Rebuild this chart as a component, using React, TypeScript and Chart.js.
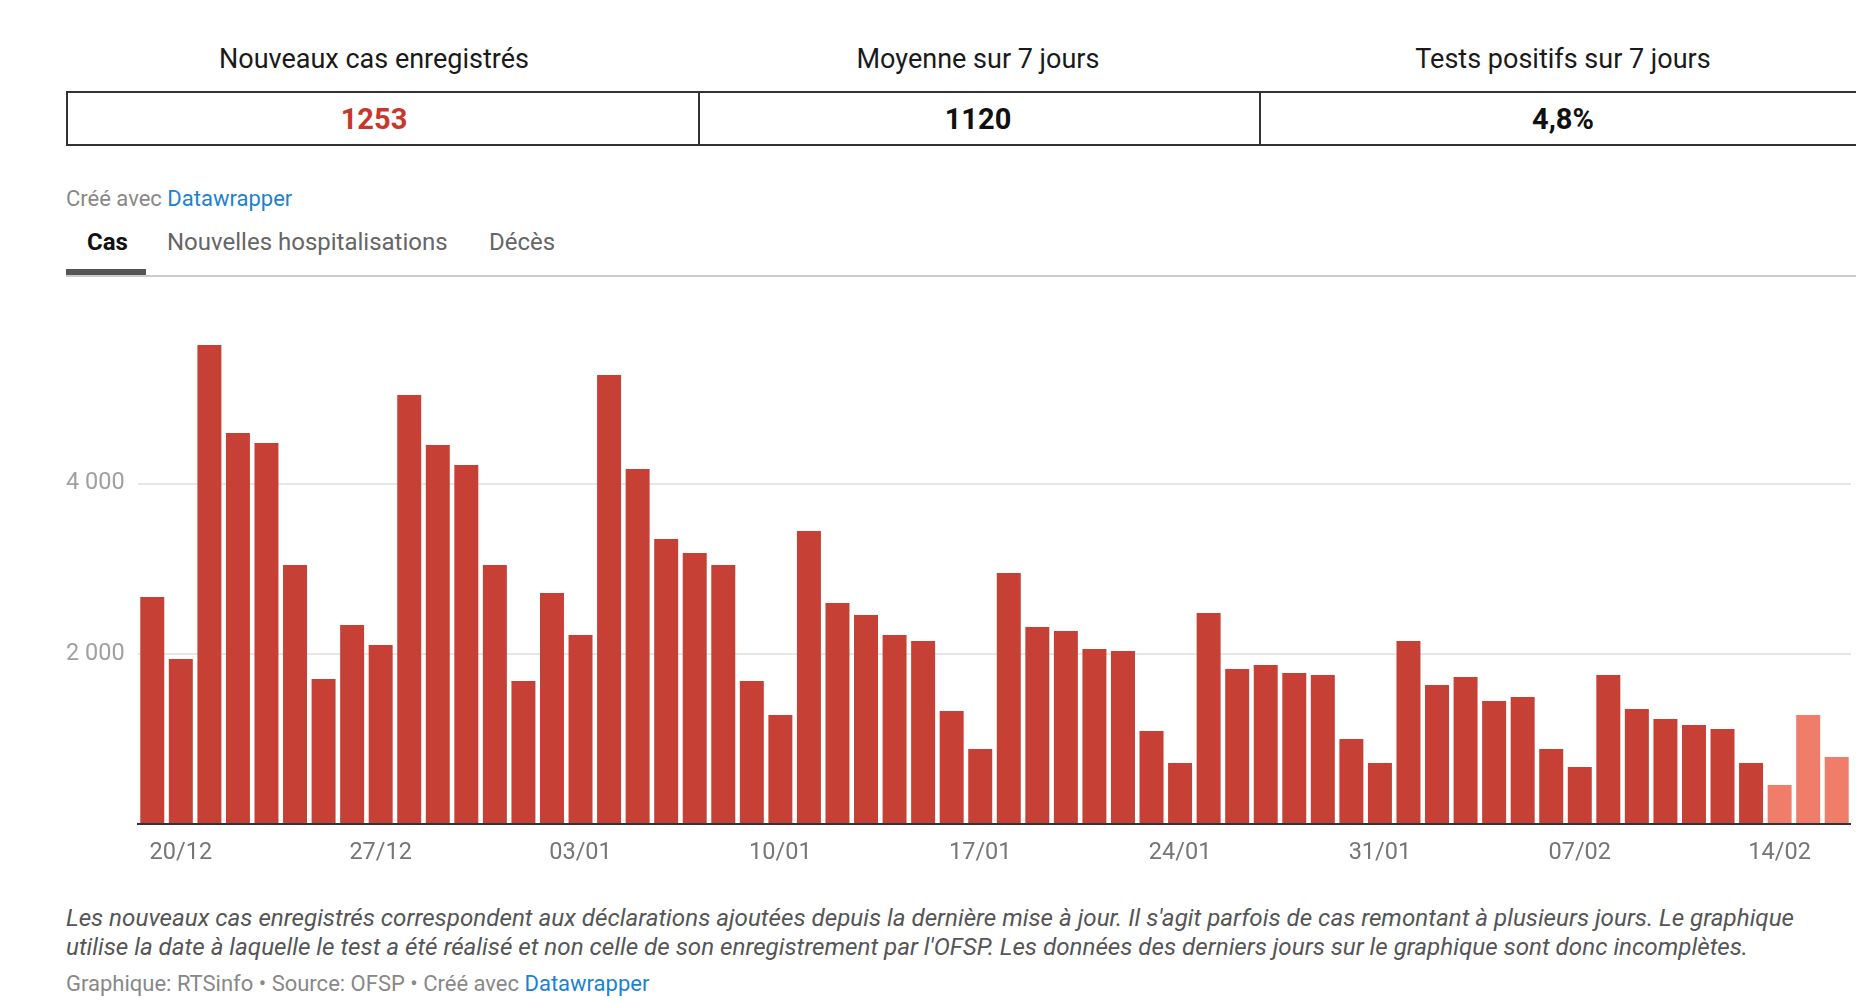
import React, { useEffect, useRef } from "react";
import { Chart, registerables } from "chart.js";

Chart.register(...registerables);

const FONT = "Roboto, 'Noto Sans', sans-serif";
const DARK_RED = "#c64035";
const LIGHT_RED = "#ef7d69";

const statTitles = ["Nouveaux cas enregistrés", "Moyenne sur 7 jours", "Tests positifs sur 7 jours"];
const statValues = ["1253", "1120", "4,8%"];
const statColors = ["#c9372c", "#111", "#111"];

const tabs = ["Cas", "Nouvelles hospitalisations", "Décès"];

const dates = [
  "19/12", "20/12", "21/12", "22/12", "23/12", "24/12", "25/12", "26/12", "27/12", "28/12",
  "29/12", "30/12", "31/12", "01/01", "02/01", "03/01", "04/01", "05/01", "06/01", "07/01",
  "08/01", "09/01", "10/01", "11/01", "12/01", "13/01", "14/01", "15/01", "16/01", "17/01",
  "18/01", "19/01", "20/01", "21/01", "22/01", "23/01", "24/01", "25/01", "26/01", "27/01",
  "28/01", "29/01", "30/01", "31/01", "01/02", "02/02", "03/02", "04/02", "05/02", "06/02",
  "07/02", "08/02", "09/02", "10/02", "11/02", "12/02", "13/02", "14/02", "15/02", "16/02",
];

const cases = [
  2668, 1939, 5630, 4596, 4478, 3044, 1704, 2339, 2104, 5042,
  4455, 4220, 3044, 1681, 2715, 2221, 5277, 4173, 3350, 3185,
  3044, 1681, 1281, 3444, 2598, 2457, 2221, 2151, 1328, 882,
  2950, 2316, 2268, 2057, 2033, 1093, 717, 2480, 1822, 1869,
  1775, 1751, 999, 717, 2151, 1634, 1728, 1446, 1493, 882,
  670, 1751, 1352, 1234, 1164, 1117, 717, 458, 1281, 788,
];

// last days are incomplete (lighter bars)
const incompleteDays = 3;

const xTickLabels = ["20/12", "27/12", "03/01", "10/01", "17/01", "24/01", "31/01", "07/02", "14/02"];
const yTickValues = [2000, 4000];
const yTickLabels = ["2 000", "4 000"];

const CasesChart: React.FC = () => {
  const canvasRef = useRef<HTMLCanvasElement | null>(null);
  const chartRef = useRef<Chart<"bar", number[], string> | null>(null);

  useEffect(() => {
    if (chartRef.current) {
      chartRef.current.destroy();
    }
    if (canvasRef.current) {
      const colors = cases.map((_, i) => (i >= cases.length - incompleteDays ? LIGHT_RED : DARK_RED));
      chartRef.current = new Chart(canvasRef.current, {
        type: "bar",
        data: {
          labels: dates,
          datasets: [
            {
              data: cases,
              backgroundColor: colors,
              borderWidth: 0,
              barPercentage: 0.84,
              categoryPercentage: 1,
            },
          ],
        },
        options: {
          responsive: false,
          animation: false,
          layout: { padding: { top: 33.4, left: 0, right: 0, bottom: 0 } },
          plugins: {
            legend: { display: false },
            tooltip: { enabled: false },
          },
          scales: {
            x: {
              grid: { display: false },
              border: { display: true, color: "#333", width: 2 },
              ticks: {
                autoSkip: false,
                maxRotation: 0,
                padding: 7,
                color: "#767676",
                font: { family: FONT, size: 23.5 },
                callback: (_v, i) => (xTickLabels.includes(dates[i]) ? dates[i] : ""),
              },
              afterFit: (scale) => {
                scale.height = 56;
              },
            },
            y: {
              min: 0,
              max: 6000,
              ticks: {
                stepSize: 2000,
                crossAlign: "far",
                padding: 0,
                color: "#a0a0a0",
                font: { family: FONT, size: 23.5 },
                callback: (v) => {
                  const k = yTickValues.indexOf(Number(v));
                  return k >= 0 ? yTickLabels[k] : "";
                },
              },
              grid: {
                drawTicks: false,
                lineWidth: 2,
                color: (ctx) => (yTickValues.includes(ctx.tick?.value) ? "#e6e6e6" : "rgba(0,0,0,0)"),
              },
              border: { display: false },
              afterFit: (scale) => {
                scale.width = 72;
              },
            },
          },
        },
      });
    }
    return () => {
      if (chartRef.current) {
        chartRef.current.destroy();
        chartRef.current = null;
      }
    };
  }, []);

  return (
    <canvas
      ref={canvasRef}
      width={1785}
      height={600}
      style={{ position: "absolute", left: 66, top: 280, width: 1785, height: 600 }}
    ></canvas>
  );
};

const App: React.FC = () => {
  const titleCenters = [374, 978, 1563];
  const tabLefts = [87, 167, 489];

  return (
    <div
      style={{
        position: "absolute",
        left: 0,
        top: 0,
        width: 1856,
        height: 1003,
        overflow: "hidden",
        background: "#fff",
        fontFamily: FONT,
      }}
    >
      {statTitles.map((t, i) => (
        <div
          key={t}
          style={{
            position: "absolute",
            left: titleCenters[i],
            top: 43,
            transform: "translateX(-50%)",
            whiteSpace: "nowrap",
            fontSize: 27,
            lineHeight: "32px",
            color: "#1a1a1a",
          }}
        >
          {t}
        </div>
      ))}

      <div
        style={{
          position: "absolute",
          left: 66,
          top: 91,
          width: 1804,
          height: 55,
          border: "2px solid #333",
          boxSizing: "border-box",
        }}
      ></div>
      <div style={{ position: "absolute", left: 698, top: 91, width: 1.5, height: 55, background: "#333" }}></div>
      <div style={{ position: "absolute", left: 1259, top: 91, width: 1.5, height: 55, background: "#333" }}></div>

      {statValues.map((v, i) => (
        <div
          key={v}
          style={{
            position: "absolute",
            left: titleCenters[i],
            top: 102,
            transform: "translateX(-50%)",
            whiteSpace: "nowrap",
            fontSize: 29,
            fontWeight: 700,
            lineHeight: "34px",
            color: statColors[i],
          }}
        >
          {v}
        </div>
      ))}

      <div
        style={{
          position: "absolute",
          left: 66,
          top: 186,
          fontSize: 22,
          lineHeight: "26px",
          color: "#888",
          whiteSpace: "nowrap",
        }}
      >
        Créé avec <span style={{ color: "#1d81d2" }}>Datawrapper</span>
      </div>

      {tabs.map((t, i) => (
        <div
          key={t}
          style={{
            position: "absolute",
            left: tabLefts[i],
            top: 228,
            fontSize: 24,
            lineHeight: "28px",
            whiteSpace: "nowrap",
            fontWeight: i === 0 ? 700 : 400,
            color: i === 0 ? "#111" : "#666",
          }}
        >
          {t}
        </div>
      ))}
      <div style={{ position: "absolute", left: 66, top: 275, width: 1790, height: 2, background: "#ccc" }}></div>
      <div style={{ position: "absolute", left: 66, top: 269, width: 80, height: 6, background: "#555" }}></div>

      <CasesChart />

      <div
        style={{
          position: "absolute",
          left: 66,
          top: 904,
          fontSize: 24.2,
          lineHeight: "29px",
          fontStyle: "italic",
          color: "#555",
          whiteSpace: "nowrap",
        }}
      >
        Les nouveaux cas enregistrés correspondent aux déclarations ajoutées depuis la dernière mise à jour. Il
        s'agit parfois de cas remontant à plusieurs jours. Le graphique
        <br />
        utilise la date à laquelle le test a été réalisé et non celle de son enregistrement par l'OFSP. Les
        données des derniers jours sur le graphique sont donc incomplètes.
      </div>

      <div
        style={{
          position: "absolute",
          left: 66,
          top: 971,
          fontSize: 22,
          lineHeight: "26px",
          color: "#888",
          whiteSpace: "nowrap",
        }}
      >
        Graphique: RTSinfo • Source: OFSP • Créé avec <span style={{ color: "#1d81d2" }}>Datawrapper</span>
      </div>
    </div>
  );
};

export default App;
